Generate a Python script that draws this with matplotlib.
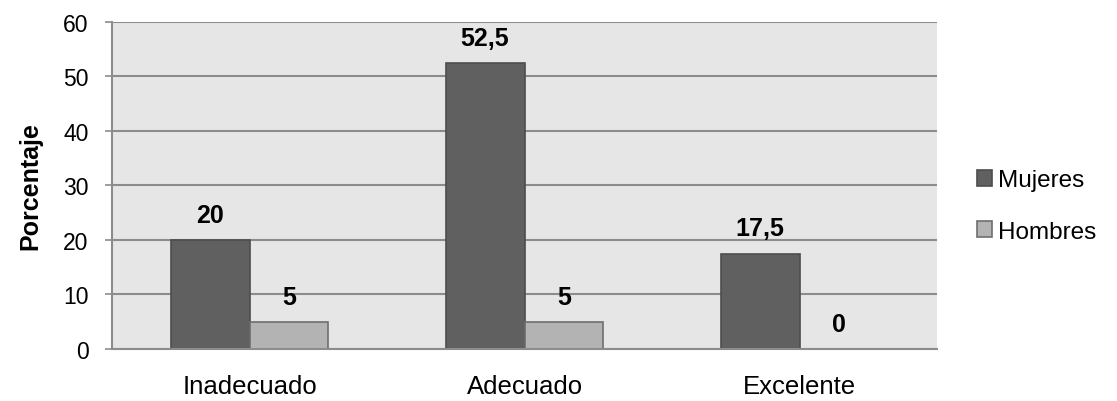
import matplotlib
matplotlib.use("Agg")
import matplotlib.pyplot as plt
import numpy as np

plt.rcParams['font.family'] = ['Liberation Sans', 'DejaVu Sans']

categories = ["Inadecuado", "Adecuado", "Excelente"]
mujeres = [20, 52.5, 17.5]
hombres = [5, 5, 0]
series_names = ["Mujeres", "Hombres"]
yticks = [0, 10, 20, 30, 40, 50, 60]

fig = plt.figure(figsize=(11.17, 4.02), dpi=100)
ax = fig.add_axes([0.1003, 0.1294, 0.8389 - 0.1003, 0.9435 - 0.1294])
ax.set_facecolor("#e6e6e6")

x = np.arange(len(categories))
w = 0.287
grid_c = "#8c8c8c"

b1 = ax.bar(x - w / 2, mujeres, w, color="#606060", edgecolor="#4d4d4d",
            linewidth=1.2, label=series_names[0], zorder=3)
b2 = ax.bar(x + w / 2, hombres, w, color="#b3b3b3", edgecolor="#6e6e6e",
            linewidth=1.2, label=series_names[1], zorder=3)

def fmt(v):
    s = f"{v:g}"
    return s.replace(".", ",")

for bars, vals in ((b1, mujeres), (b2, hombres)):
    for rect, v in zip(bars, vals):
        ax.annotate(fmt(v), (rect.get_x() + rect.get_width() / 2, v),
                    xytext=(0, 13), textcoords="offset points",
                    ha="center", va="baseline", fontsize=18,
                    fontweight="bold", color="black", zorder=4)

ax.set_xlim(-0.5, 2.5)
ax.set_ylim(0, 60)
ax.set_yticks(yticks)
ax.set_yticklabels([str(t) for t in yticks], fontsize=16.5)
ax.set_xticks(x)
ax.set_xticklabels(categories, fontsize=18.5)
ax.yaxis.grid(True, color=grid_c, linewidth=1.5, zorder=1)
ax.set_axisbelow(True)

for s in ("top", "right"):
    ax.spines[s].set_visible(False)
for s in ("left", "bottom"):
    ax.spines[s].set_color(grid_c)
    ax.spines[s].set_linewidth(1.5)
    ax.spines[s].set_zorder(5)

ax.tick_params(axis="y", length=5, width=1.2, color=grid_c, pad=12)
ax.tick_params(axis="x", length=0, pad=18)

ax.set_ylabel("Porcentaje", fontsize=18, fontweight="bold", labelpad=15)

leg = fig.legend(handles=[b1, b2], labels=series_names,
                 loc="center left", bbox_to_anchor=(0.866, 0.485),
                 frameon=False, fontsize=17.5, handlelength=0.6,
                 handleheight=0.6, handletextpad=0.25, labelspacing=1.2,
                 borderaxespad=0)

fig.savefig("out.png", dpi=100, facecolor="white")
